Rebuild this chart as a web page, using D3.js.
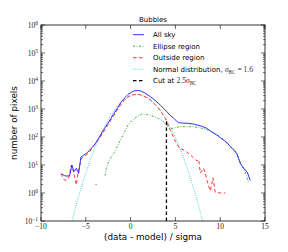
<!DOCTYPE html>
<html>
<head>
<meta charset="utf-8">
<script src="https://cdn.jsdelivr.net/npm/d3@7"></script>
<style>
  body { margin: 0; background: #fff; }
  text { font-family: "DejaVu Sans", sans-serif; }
  .math { font-family: "Liberation Serif", "DejaVu Serif", serif; }
</style>
</head>
<body>
<div id="chart"></div>
<script>
// values (x = sigma, y = number of pixels)
var allSkyX = [-7.7, -7.4, -7.1, -6.8, -6.55, -6.32, -6.06, -5.8, -5.55, -5.3, -4.94, -4.6, -4.39, -4.02, -3.6, -3.2, -2.9, -2.5, -1.96, -1.5, -1.04, -0.6, -0.29, 0.1, 0.45, 0.8, 1.19, 1.6, 1.94, 2.2, 2.53, 2.9, 3.31, 3.7, 4.06, 4.4, 4.8, 5.1, 5.36, 5.8, 6.3, 6.9, 7.4, 8.0, 8.5, 9.1, 9.64, 10.0, 10.38, 10.8, 11.13, 11.5, 11.87, 12.05, 12.24, 12.6, 12.99, 13.36];
var allSkyY = [4.8, 4.2, 4.0, 4.2, 10, 5.8, 7.6, 5.0, 19, 22, 26, 33, 40, 52, 87, 141, 204, 316, 617, 1050, 1820, 2630, 3310, 3980, 4470, 4570, 4370, 3720, 3160, 2750, 2290, 1820, 1380, 1050, 794, 603, 468, 380, 324, 316, 309, 295, 269, 240, 204, 148, 117, 95, 78, 60, 45, 35, 25, 17, 11.5, 7.6, 5.8, 2.8];

var ellipseX = [-3.92, -3.78, null, -2.85, -2.71, -2.52, -2.15, -1.79, -1.41, -1.04, -0.65, -0.29, 0.1, 0.45, 0.8, 1.19, 1.75, 2.2, 2.57, 3.1, 3.68, 4.06, 4.3, 4.6, 5.0, 5.55, 6.3, 7.0, 7.78, 8.15, 8.6, 9.08, 9.64, 10.2, 10.8, 11.3, 11.5, 11.9, 12.3, 12.7, 13.17];
var ellipseY = [2.0, 2.0, null, 4.2, 7.6, 11.5, 20, 28, 52, 89, 158, 269, 372, 468, 562, 646, 646, 589, 537, 457, 355, 263, 200, 200, 219, 234, 234, 234, 209, 204, 178, 155, 120, 89, 63, 40, 38, 24, 11, 7, 2.3];

var outsideX = [-7.74, -7.5, -7.36, -7.06, -6.85, -6.62, -6.43, -6.25, -6.06, -5.87, -5.5, -5.1, -4.75, -4.39, -4.02, -3.6, -3.2, -2.9, -2.5, -1.96, -1.5, -1.04, -0.6, -0.29, 0.1, 0.45, 0.8, 1.19, 1.6, 2.2, 2.6, 3.13, 3.5, 3.87, 4.43, 5.0, 5.4, 5.6, 6.1, 6.66, 7.03, 7.41, 7.59, 7.78, 8.15, 8.35, 8.53, 8.75, 8.9, 9.2, 9.45, 10.0, 10.57];
var outsideY = [5.0, 3.2, 2.9, 2.9, 4.0, 10, 6.6, 3.8, 1.95, 5.0, 17, 21, 26, 35, 55, 79, 120, 178, 282, 525, 912, 1510, 2240, 2750, 3160, 3310, 3390, 3160, 2750, 2090, 1580, 1050, 708, 468, 178, 71, 43, 38, 32, 23, 18, 14, 16, 5.2, 7.6, 5.0, 2.75, 1.6, 1.2, 3.5, 1.05, 1, 1];

var normalX = [-6.6, -6.5, -6, -5.5, -5, -4.5, -4, -3.5, -3, -2.5, -2, -1.5, -1, -0.5, 0, 0.5, 1, 1.5, 2, 2.5, 3, 3.5, 4, 4.5, 5, 5.5, 6, 6.5, 7, 7.5, 8, 8.1];
var normalY = [0.085, 0.112, 0.45, 1.58, 5.1, 14.9, 40, 95, 209, 410, 740, 1200, 1780, 2390, 2870, 3200, 3200, 2890, 2400, 1780, 1200, 740, 410, 209, 95, 40, 14.9, 5.1, 1.58, 0.45, 0.112, 0.085];

var cutX = 4.0;
var cutTop = 400;

var xTicks = [-10, -5, 0, 5, 10, 15];
var xTickLabels = ["\u221210", "\u22125", "0", "5", "10", "15"];
var yExponents = [-1, 0, 1, 2, 3, 4, 5, 6];

var W = 288, H = 252;
var pLeft = 41, pRight = 265, pTop = 25, pBottom = 221;

var svg = d3.select("#chart").append("svg")
  .attr("width", W)
  .attr("height", H);

svg.append("rect").attr("width", W).attr("height", H).attr("fill", "#fff");

var x = d3.scaleLinear().domain([-10, 15]).range([pLeft, pRight]);
var y = d3.scaleLog().domain([0.1, 1e6]).range([pBottom, pTop]);

svg.append("clipPath")
  .attr("id", "plotClip")
  .append("rect")
  .attr("x", pLeft)
  .attr("y", pTop)
  .attr("width", pRight - pLeft)
  .attr("height", pBottom - pTop);

var plot = svg.append("g").attr("clip-path", "url(#plotClip)");

function pairs(xs, ys) {
  return xs.map(function (v, i) { return [v, ys[i]]; });
}

var line = d3.line()
  .defined(function (d) { return d[0] !== null && d[1] !== null; })
  .x(function (d) { return x(d[0]); })
  .y(function (d) { return y(d[1]); });

var styles = {
  all: { color: "#1a1aff", dash: null, width: 0.9 },
  ellipse: { color: "#22a022", dash: "2,1.6,0.8,1.6", width: 0.9 },
  outside: { color: "#ff2020", dash: "3.5,2.5", width: 0.9 },
  normal: { color: "#20c8c8", dash: "0.9,1.3", width: 0.9 },
  cut: { color: "#000", dash: "3.5,2.5", width: 1.3 }
};

var series = [
  { data: pairs(normalX, normalY), s: styles.normal },
  { data: pairs(ellipseX, ellipseY), s: styles.ellipse },
  { data: pairs(outsideX, outsideY), s: styles.outside },
  { data: pairs(allSkyX, allSkyY), s: styles.all }
];

plot.selectAll("path.series")
  .data(series)
  .enter().append("path")
  .attr("class", "series")
  .attr("d", function (d) { return line(d.data); })
  .attr("fill", "none")
  .attr("stroke", function (d) { return d.s.color; })
  .attr("stroke-width", function (d) { return d.s.width; })
  .attr("stroke-dasharray", function (d) { return d.s.dash; });

// cut line
plot.append("line")
  .attr("x1", x(cutX)).attr("x2", x(cutX))
  .attr("y1", y(0.1)).attr("y2", y(cutTop))
  .attr("stroke", styles.cut.color)
  .attr("stroke-width", styles.cut.width)
  .attr("stroke-dasharray", styles.cut.dash);

// frame
svg.append("rect")
  .attr("x", pLeft).attr("y", pTop)
  .attr("width", pRight - pLeft).attr("height", pBottom - pTop)
  .attr("fill", "none")
  .attr("stroke", "#000")
  .attr("stroke-width", 0.8);

// x ticks (inside, bottom and top)
var ticks = svg.append("g").attr("stroke", "#000").attr("stroke-width", 0.6);
xTicks.forEach(function (t) {
  ticks.append("line").attr("x1", x(t)).attr("x2", x(t)).attr("y1", pBottom).attr("y2", pBottom - 4);
  ticks.append("line").attr("x1", x(t)).attr("x2", x(t)).attr("y1", pTop).attr("y2", pTop + 4);
});

// y ticks, major and minor, inside on both sides
yExponents.forEach(function (e) {
  var v = Math.pow(10, e);
  ticks.append("line").attr("x1", pLeft).attr("x2", pLeft + 4).attr("y1", y(v)).attr("y2", y(v));
  ticks.append("line").attr("x1", pRight).attr("x2", pRight - 4).attr("y1", y(v)).attr("y2", y(v));
  if (e < 6) {
    for (var m = 2; m < 10; m++) {
      var mv = m * v;
      ticks.append("line").attr("x1", pLeft).attr("x2", pLeft + 2).attr("y1", y(mv)).attr("y2", y(mv));
      ticks.append("line").attr("x1", pRight).attr("x2", pRight - 2).attr("y1", y(mv)).attr("y2", y(mv));
    }
  }
});

// x tick labels
svg.selectAll("text.xtick")
  .data(xTicks)
  .enter().append("text")
  .attr("class", "xtick math")
  .attr("x", function (d) { return x(d); })
  .attr("y", 229)
  .attr("text-anchor", "middle")
  .attr("font-size", 7.5)
  .attr("fill", "#222")
  .text(function (d, i) { return xTickLabels[i]; });

// y tick labels
var yl = svg.selectAll("text.ytick")
  .data(yExponents)
  .enter().append("text")
  .attr("class", "ytick math")
  .attr("x", 38)
  .attr("y", function (d) { return y(Math.pow(10, d)) + 3; })
  .attr("text-anchor", "end")
  .attr("font-size", 7.5)
  .attr("fill", "#222");
yl.append("tspan").text("10");
yl.append("tspan")
  .attr("dy", -3.5)
  .attr("font-size", 5.5)
  .text(function (d) { return d < 0 ? "\u2212" + (-d) : String(d); });

// title and axis labels
svg.append("text")
  .attr("x", (pLeft + pRight) / 2)
  .attr("y", 22)
  .attr("text-anchor", "middle")
  .attr("font-size", 7)
  .text("Bubbles");

svg.append("text")
  .attr("x", (pLeft + pRight) / 2)
  .attr("y", 240)
  .attr("text-anchor", "middle")
  .attr("font-size", 8.8)
  .text("(data - model) / sigma");

svg.append("text")
  .attr("transform", "translate(17," + ((pTop + pBottom) / 2) + ") rotate(-90)")
  .attr("text-anchor", "middle")
  .attr("font-size", 8.8)
  .text("number of pixels");

// legend
var legendItems = [
  { s: styles.all, parts: [["All sky", ""]] },
  { s: styles.ellipse, parts: [["Ellipse region", ""]] },
  { s: styles.outside, parts: [["Outside region", ""]] },
  { s: styles.normal, parts: [["Normal distribution, ", ""], ["\u03c3", "sigma"], ["BC", "sub"], [" = 1.6", "m"]] },
  { s: styles.cut, parts: [["Cut at ", ""], ["2.5", "m"], ["\u03c3", "sigma"], ["BC", "sub"]] }
];

var lg = svg.append("g");
legendItems.forEach(function (it, i) {
  var ly = 34.7 + i * 11.5;
  lg.append("line")
    .attr("x1", 133).attr("x2", 144)
    .attr("y1", ly).attr("y2", ly)
    .attr("stroke", it.s.color)
    .attr("stroke-width", it.s.width)
    .attr("stroke-dasharray", it.s.dash);
  var t = lg.append("text")
    .attr("x", 153)
    .attr("y", ly + 2.5)
    .attr("font-size", 7);
  var shifted = false;
  it.parts.forEach(function (p) {
    var ts = t.append("tspan").text(p[0]);
    if (p[1] === "sigma") {
      ts.attr("class", "math").attr("font-style", "italic").attr("font-size", 7.5).attr("fill", "#333");
    } else if (p[1] === "sub") {
      ts.attr("class", "math").attr("font-size", 5.2).attr("dy", 1.8).attr("fill", "#333");
      shifted = true;
    } else if (p[1] === "m") {
      ts.attr("class", "math").attr("font-size", 7.5).attr("fill", "#333");
      if (shifted) { ts.attr("dy", -1.8); shifted = false; }
    }
  });
});
</script>
</body>
</html>
